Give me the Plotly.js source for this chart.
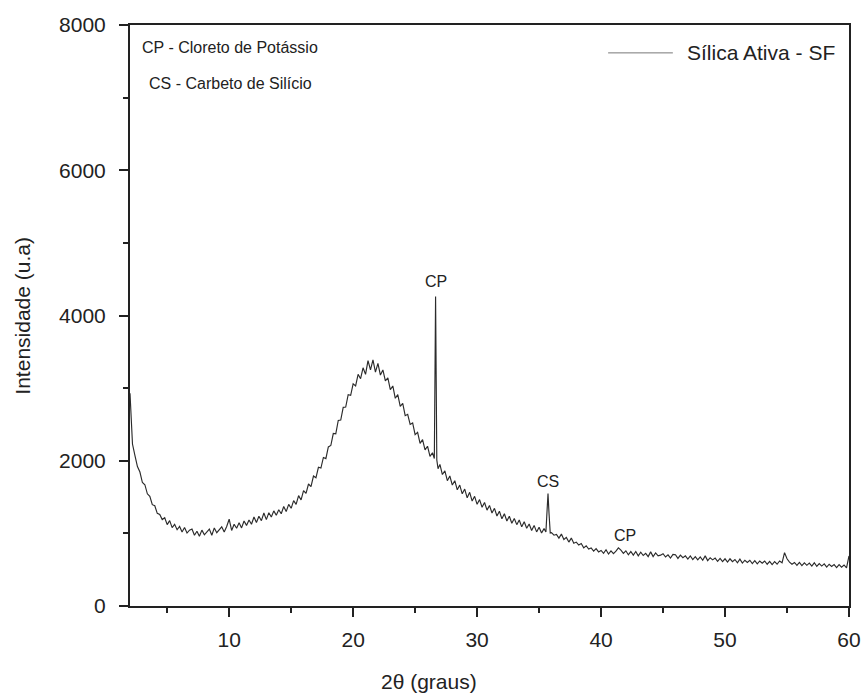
<!DOCTYPE html>
<html>
<head>
<meta charset="utf-8">
<script src="https://cdn.plot.ly/plotly-3.0.1.min.js"></script>
<style>html,body{margin:0;padding:0;background:#fff;}</style>
</head>
<body>
<div id="chart" style="width:863px;height:695px;"></div>
<script>
// 2θ (degrees) sampled positions
const twoTheta = [
  2.0,2.1,2.2,2.4,2.6,2.8,3.0,3.2,3.4,3.6,
  3.8,4.0,4.2,4.4,4.6,4.8,5.0,5.2,5.4,5.6,
  5.8,6.0,6.2,6.4,6.6,6.8,7.0,7.2,7.4,7.6,
  7.8,8.0,8.2,8.4,8.6,8.8,9.0,9.2,9.4,9.6,
  9.8,
  10.0,10.2,10.4,10.6,10.8,11.0,11.2,11.4,11.6,11.8,
  12.0,12.2,12.4,12.6,12.8,13.0,13.2,13.4,13.6,13.8,
  14.0,14.2,14.4,14.6,14.8,15.0,15.2,15.4,15.6,15.8,
  16.0,16.2,16.4,16.6,16.8,17.0,17.2,17.4,17.6,17.8,
  18.0,18.2,18.4,18.6,18.8,19.0,19.2,19.4,19.6,19.8,
  20.0,20.2,20.4,20.6,20.8,21.0,21.2,21.4,21.6,21.8,
  22.0,22.2,22.4,22.6,22.8,23.0,23.2,23.4,23.6,23.8,
  24.0,24.2,24.4,24.6,24.8,25.0,25.2,25.4,25.6,25.8,
  26.0,26.2,26.4,
  26.55,26.65,26.75,26.85,
  27.0,27.2,27.4,27.6,27.8,28.0,28.2,28.4,28.6,28.8,
  29.0,29.2,29.4,29.6,29.8,30.0,30.2,30.4,30.6,30.8,
  31.0,31.2,31.4,31.6,31.8,32.0,32.2,32.4,32.6,32.8,
  33.0,33.2,33.4,33.6,33.8,34.0,34.2,34.4,34.6,34.8,
  35.0,35.2,35.4,
  35.55,35.65,35.72,35.8,35.9,
  36.0,36.2,36.4,36.6,36.8,37.0,37.2,37.4,37.6,37.8,
  38.0,38.2,38.4,38.6,38.8,39.0,39.2,39.4,39.6,39.8,
  40.0,40.2,40.4,40.6,40.8,41.0,41.2,41.4,41.6,41.8,
  42.0,42.2,42.4,42.6,42.8,43.0,43.2,43.4,43.6,43.8,
  44.0,44.2,44.4,44.6,44.8,45.0,45.2,45.4,45.6,45.8,
  46.0,46.2,46.4,46.6,46.8,47.0,47.2,47.4,47.6,47.8,
  48.0,48.2,48.4,48.6,48.8,49.0,49.2,49.4,49.6,49.8,
  50.0,50.2,50.4,50.6,50.8,51.0,51.2,51.4,51.6,51.8,
  52.0,52.2,52.4,52.6,52.8,53.0,53.2,53.4,53.6,53.8,
  54.0,54.2,54.4,54.6,54.8,55.0,55.2,55.4,55.6,55.8,
  56.0,56.2,56.4,56.6,56.8,57.0,57.2,57.4,57.6,57.8,
  58.0,58.2,58.4,58.6,58.8,59.0,59.2,59.4,59.6,59.8,
  60.0
];

// Intensity (u.a)
const intensity = [
  2930,2480,2230,2070,1920,1845,1700,1670,1545,1510,
  1395,1380,1275,1260,1190,1215,1120,1175,1080,1125,
  1050,1095,1020,1080,1005,1045,1060,975,1030,960,
  1045,980,1020,1060,975,1075,1010,1055,1090,1020,
  1095,
  1195,1040,1125,1070,1145,1075,1170,1110,1185,1125,
  1225,1150,1235,1175,1280,1190,1285,1225,1310,1250,
  1325,1270,1370,1300,1400,1345,1450,1400,1520,1460,
  1590,1550,1680,1645,1790,1765,1910,1900,2045,2030,
  2190,2210,2375,2370,2555,2560,2735,2740,2910,2900,
  3060,3030,3190,3130,3280,3190,3380,3250,3390,3220,
  3340,3180,3250,3100,3140,2980,3030,2860,2910,2750,
  2790,2620,2640,2500,2520,2360,2390,2240,2290,2150,
  2200,2060,2110,
  2030,4260,2010,1890,
  1950,1810,1860,1725,1790,1665,1725,1600,1665,1545,
  1610,1490,1565,1445,1510,1400,1465,1360,1425,1320,
  1385,1280,1345,1240,1305,1200,1270,1170,1235,1140,
  1205,1120,1185,1090,1160,1070,1130,1040,1110,1020,
  1085,1005,1065,
  1020,1300,1550,1280,1005,
  1010,975,985,935,990,915,945,880,935,865,
  880,840,860,800,830,785,800,755,790,745,
  765,725,775,715,760,720,755,800,770,725,
  760,705,750,700,750,690,740,695,725,680,
  745,680,730,690,700,720,675,705,660,710,
  705,655,700,665,690,645,690,640,680,635,
  675,630,690,625,665,635,660,615,655,610,
  650,605,650,610,640,595,645,590,630,600,
  630,585,625,580,620,590,620,575,615,570,
  610,575,620,595,735,650,605,575,600,560,
  600,555,595,560,590,550,595,545,585,550,
  580,535,575,545,570,530,570,535,565,525,
  690
];

// Axis tick values
const xTicks = [10, 20, 30, 40, 50, 60];
const yTicks = [0, 2000, 4000, 6000, 8000];

// Peak labels
const peakLabels = ['CP', 'CS', 'CP'];
const peakX = [26.69, 35.73, 41.96];
const peakY = [4465, 1711, 964];

const seriesName = 'Sílica Ativa - SF';
const notes = ['CP - Cloreto de Potássio', 'CS - Carbeto de Silício'];

const ink = '#222';
const fontFam = 'Liberation Sans, Arial, Helvetica, sans-serif';

const trace = {
  x: twoTheta, y: intensity, type: 'scatter', mode: 'lines',
  name: seriesName,
  line: {color: '#2b2b2b', width: 1.15},
  hoverinfo: 'x+y'
};

const annotations = [];
for (let i = 0; i < peakLabels.length; i++) {
  annotations.push({
    x: peakX[i], y: peakY[i], xref: 'x', yref: 'y', text: peakLabels[i],
    showarrow: false, xanchor: 'center', yanchor: 'middle',
    font: {size: 16, color: ink, family: fontFam}
  });
}
annotations.push({
  x: 0.0139, y: 0.962, xref: 'paper', yref: 'paper', text: notes[0],
  showarrow: false, xanchor: 'left', yanchor: 'middle',
  font: {size: 16, color: ink, family: fontFam}
});
annotations.push({
  x: 0.023, y: 0.900, xref: 'paper', yref: 'paper', text: notes[1],
  showarrow: false, xanchor: 'left', yanchor: 'middle',
  font: {size: 16, color: ink, family: fontFam}
});
// legend text
annotations.push({
  x: 0.772, y: 0.952, xref: 'paper', yref: 'paper', text: seriesName,
  showarrow: false, xanchor: 'left', yanchor: 'middle',
  font: {size: 21, color: ink, family: fontFam}
});
// axis titles
annotations.push({
  x: 0.416, y: -0.1308, xref: 'paper', yref: 'paper', text: '2θ (graus)',
  showarrow: false, xanchor: 'center', yanchor: 'middle',
  font: {size: 21, color: ink, family: fontFam}
});
annotations.push({
  x: -0.150, y: 0.5, xref: 'paper', yref: 'paper', text: 'Intensidade (u.a)',
  showarrow: false, xanchor: 'center', yanchor: 'middle', textangle: -90,
  font: {size: 21, color: ink, family: fontFam}
});

const layout = {
  width: 863, height: 695,
  margin: {l: 130, r: 14, t: 25, b: 89},
  paper_bgcolor: '#fff', plot_bgcolor: '#fff',
  showlegend: false,
  font: {family: fontFam, color: ink},
  xaxis: {
    range: [2, 60], tickmode: 'array', tickvals: xTicks, ticktext: xTicks.map(String),
    ticks: 'outside', ticklen: 9, tickwidth: 2, tickcolor: ink,
    showline: true, linewidth: 2, linecolor: ink, mirror: true,
    showgrid: false, zeroline: false,
    tickfont: {size: 21, color: ink, family: fontFam},
    ticklabelstandoff: 5,
    minor: {dtick: 5, tick0: 0, ticks: 'outside', ticklen: 5, tickwidth: 2, tickcolor: ink, showgrid: false}
  },
  yaxis: {
    range: [0, 8000], tickmode: 'array', tickvals: yTicks, ticktext: yTicks.map(String),
    ticks: 'outside', ticklen: 9, tickwidth: 2, tickcolor: ink,
    showline: true, linewidth: 2, linecolor: ink, mirror: true,
    showgrid: false, zeroline: false,
    tickfont: {size: 21, color: ink, family: fontFam},
    ticklabelstandoff: 9,
    minor: {dtick: 1000, tick0: 0, ticks: 'outside', ticklen: 5, tickwidth: 2, tickcolor: ink, showgrid: false}
  },
  shapes: [{
    type: 'line', xref: 'paper', yref: 'paper',
    x0: 0.665, x1: 0.755, y0: 0.952, y1: 0.952,
    line: {color: '#777', width: 1}
  }],
  annotations: annotations
};

Plotly.newPlot('chart', [trace], layout, {displayModeBar: false, staticPlot: true});
</script>
</body>
</html>
